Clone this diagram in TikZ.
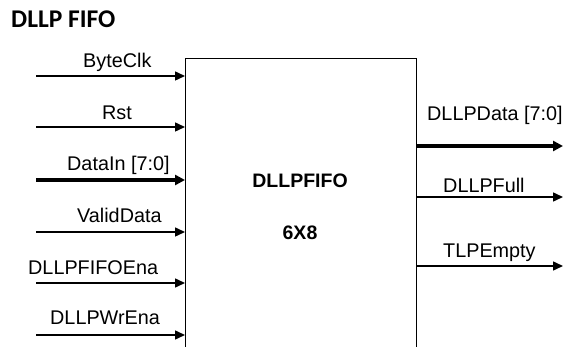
\documentclass[tikz,border=0pt]{standalone}
\usepackage{fontspec}
\setmainfont{Liberation Sans}
\newfontfamily\titlefont{Carlito}
\usetikzlibrary{arrows.meta}
\begin{document}
\begin{tikzpicture}[x=1pt,y=-1pt,
  sig/.style={line width=1.5pt,-{Triangle[length=10pt,width=9pt]}},
  bus/.style={line width=3.2pt,-{Triangle[length=10pt,width=10pt]}},
  lbl/.style={anchor=base west,inner sep=0pt,font=\fontsize{19.8}{22}\selectfont},
  blk/.style={draw,line width=1.3pt,anchor=north west,minimum width=231pt,minimum height=320pt,inner sep=0pt}]
\useasboundingbox (0,0) rectangle (565,347);
\node[anchor=base west,inner sep=0pt,font=\titlefont\bfseries\fontsize{25.5}{28}\selectfont] (title) at (11,28) {DLLP FIFO};
\node[blk] (box) at (185,58) {};
\node[font=\bfseries\fontsize{19.5}{21}\selectfont,inner sep=0pt] (name) at (300,181) {DLLPFIFO};
\node[font=\bfseries\fontsize{19.5}{21}\selectfont,inner sep=0pt] (size) at (300,233) {6X8};
% inputs
\foreach \n/\y in {i1/76,i2/127,i3/180,i4/232,i5/283,i6/335}{
  \coordinate (\n) at (36,\y);
}
\draw[sig] (i1) -- (i1 -| box.west);
\draw[sig] (i2) -- (i2 -| box.west);
\draw[bus] (i3) -- (i3 -| box.west);
\draw[sig] (i4) -- (i4 -| box.west);
\draw[sig] (i5) -- (i5 -| box.west);
\draw[sig] (i6) -- (i6 -| box.west);
\node[lbl] (l1) at (83,68) {ByteClk};
\node[lbl] (l2) at (102,120) {Rst};
\node[lbl] (l3) at (67,171) {DataIn [7:0]};
\node[lbl] (l4) at (77,223) {ValidData};
\node[lbl] (l5) at (28,275) {DLLPFIFOEna};
\node[lbl] (l6) at (50,325) {DLLPWrEna};
% outputs
\coordinate (o1) at (563,146);
\coordinate (o2) at (563,197);
\coordinate (o3) at (563,266);
\draw[bus] (o1 -| box.east) -- (o1);
\draw[sig] (o2 -| box.east) -- (o2);
\draw[sig] (o3 -| box.east) -- (o3);
\node[lbl] (r1) at (427,121) {DLLPData [7:0]};
\node[lbl] (r2) at (443,193) {DLLPFull};
\node[lbl] (r3) at (443,258) {TLPEmpty};
\end{tikzpicture}
\end{document}
